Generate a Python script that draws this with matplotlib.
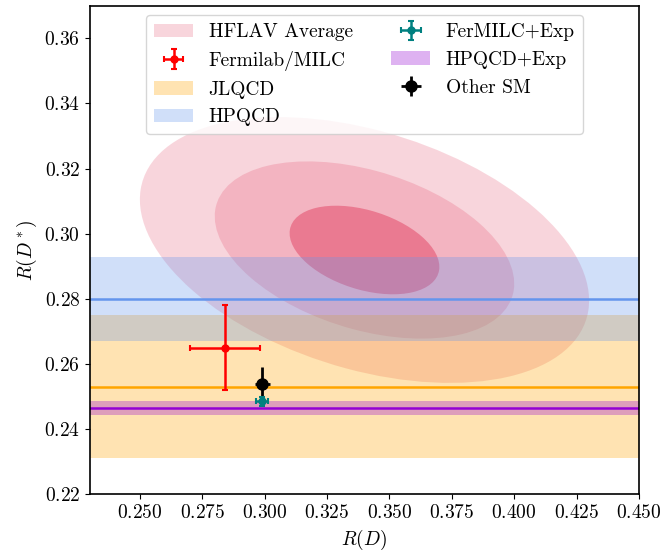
import numpy as np
import matplotlib
matplotlib.use("Agg")
import matplotlib.pyplot as plt
from matplotlib.patches import Ellipse

plt.rcParams["font.family"] = "serif"
plt.rcParams["font.serif"] = ["cmr10", "DejaVu Serif"]
plt.rcParams["mathtext.fontset"] = "cm"
plt.rcParams["axes.formatter.use_mathtext"] = True
plt.rcParams["font.size"] = 14

# HFLAV average: centre, total uncertainties, correlation
hflav_center = (0.340, 0.295)
hflav_sigma = (0.030, 0.0136)
hflav_rho = -0.38
hflav_levels = [3, 2, 1]
hflav_alphas = [0.175, 0.17, 0.36]

# lattice bands in R(D*)
band_labels = ["JLQCD", "HPQCD", "HPQCD+Exp"]
band_values = [0.253, 0.280, 0.2464]
band_errors = [0.022, 0.013, 0.0021]
band_colors = ["orange", "cornflowerblue", "darkviolet"]

# points (R(D), R(D*)) with errors
fnal_x, fnal_y, fnal_xerr, fnal_yerr = 0.284, 0.265, 0.014, 0.013
fermilc_x, fermilc_y, fermilc_xerr, fermilc_yerr = 0.299, 0.2485, 0.0025, 0.0013
sm_x, sm_y, sm_xerr, sm_yerr = 0.299, 0.254, 0.003, 0.005

xticks = [0.250, 0.275, 0.300, 0.325, 0.350, 0.375, 0.400, 0.425, 0.450]
yticks = [0.22, 0.24, 0.26, 0.28, 0.30, 0.32, 0.34, 0.36]


def cov_ellipse(center, sigma, rho, k, **kw):
    sx, sy = sigma
    cov = np.array([[sx * sx, rho * sx * sy], [rho * sx * sy, sy * sy]])
    vals, vecs = np.linalg.eigh(cov)
    angle = np.degrees(np.arctan2(vecs[1, 1], vecs[0, 1]))
    return Ellipse(center, 2 * k * np.sqrt(vals[1]), 2 * k * np.sqrt(vals[0]), angle=angle, **kw)


fig = plt.figure(figsize=(6.63, 5.5), dpi=100)
ax = fig.add_axes([0.1357, 0.1013, 0.8281, 0.8883])

handles = {}
for k, a in zip(hflav_levels, hflav_alphas):
    e = cov_ellipse(hflav_center, hflav_sigma, hflav_rho, k, facecolor="crimson", alpha=a, lw=0)
    ax.add_patch(e)
    if k == 3:
        handles["HFLAV Average"] = e

for label, v, err, c in zip(band_labels, band_values, band_errors, band_colors):
    handles[label] = ax.axhspan(v - err, v + err, color=c, alpha=0.3, lw=0)
    ax.axhline(v, color=c, lw=1.8)

handles["Fermilab/MILC"] = ax.errorbar(fnal_x, fnal_y, xerr=fnal_xerr, yerr=fnal_yerr, fmt="o", color="red",
                                       ms=5, elinewidth=1.8, capsize=2.5, capthick=1.5, zorder=5)
handles["Other SM"] = ax.errorbar(sm_x, sm_y, xerr=sm_xerr, yerr=sm_yerr, fmt="o", color="black",
                                  ms=8, elinewidth=2, zorder=6)
handles["FerMILC+Exp"] = ax.errorbar(fermilc_x, fermilc_y, xerr=fermilc_xerr, yerr=fermilc_yerr, fmt="o",
                                     color="teal", ms=5, elinewidth=1.8, capsize=2.5, capthick=1.5, zorder=7)

order = ["HFLAV Average", "Fermilab/MILC", "JLQCD", "HPQCD", "FerMILC+Exp", "HPQCD+Exp", "Other SM"]
ax.legend([handles[o] for o in order], order, loc="upper center", ncol=2, fontsize=14)

ax.set_xlim(0.23, 0.45)
ax.set_ylim(0.22, 0.37)
ax.set_xticks(xticks)
ax.set_yticks(yticks)
ax.set_xlabel("$R(D)$")
ax.set_ylabel("$R(D^*)$")
for s in ax.spines.values():
    s.set_linewidth(1.2)

fig.savefig("out.png", dpi=100)
